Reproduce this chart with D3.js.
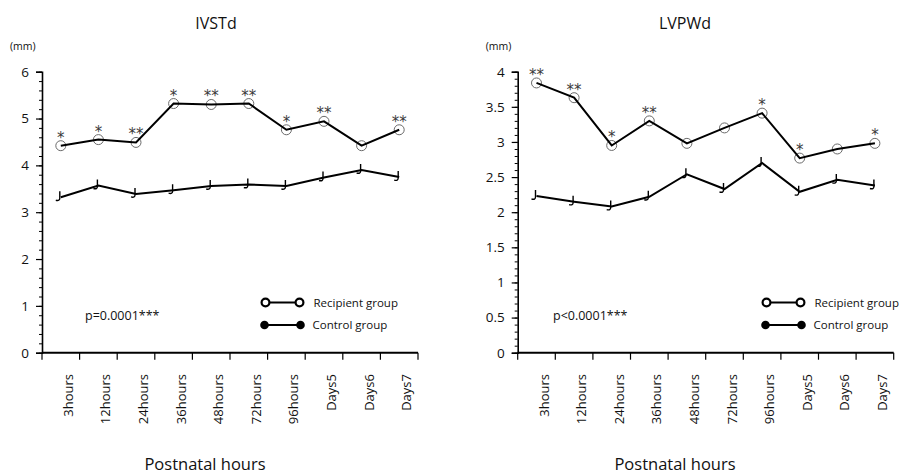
<!DOCTYPE html>
<html>
<head>
<meta charset="utf-8">
<script src="https://cdn.jsdelivr.net/npm/d3@7"></script>
<style>
  html, body { margin: 0; padding: 0; background: #fff; }
  svg { display: block; font-family: "Open Sans", "Noto Sans", sans-serif; }
</style>
</head>
<body>
<svg id="chart" width="899" height="474"></svg>
<script>
// Time points along the x axis
const categories = ["3hours", "12hours", "24hours", "36hours", "48hours", "72hours", "96hours", "Days5", "Days6", "Days7"];

// IVSTd (mm)
const ivstdRecipient = [4.42, 4.55, 4.49, 5.32, 5.30, 5.32, 4.76, 4.94, 4.42, 4.76];
const ivstdControl   = [3.32, 3.57, 3.39, 3.47, 3.56, 3.59, 3.56, 3.74, 3.90, 3.75];
const ivstdStars     = ["*", "*", "**", "*", "**", "**", "*", "**", "", "**"];
const ivstdTicks     = [0, 1, 2, 3, 4, 5, 6];

// LVPWd (mm)
const lvpwdRecipient = [3.84, 3.63, 2.95, 3.30, 2.98, 3.20, 3.41, 2.77, 2.90, 2.98];
const lvpwdControl   = [2.23, 2.15, 2.08, 2.22, 2.54, 2.33, 2.70, 2.29, 2.46, 2.38];
const lvpwdStars     = ["**", "**", "*", "**", "", "", "*", "*", "", "*"];
const lvpwdTicks     = [0, 0.5, 1, 1.5, 2, 2.5, 3, 3.5, 4];

const legendLabels = ["Recipient group", "Control group"];

const svg = d3.select("#chart");

function drawPanel(cfg) {
  const g = svg.append("g");
  const yMax = cfg.ticks[cfg.ticks.length - 1];

  const x = d3.scaleBand().domain(categories).range([cfg.left, cfg.left + 376]).padding(0);
  const y = d3.scaleLinear().domain([0, yMax]).range([352.7, 71.7]);
  const cx = c => x(c) + x.bandwidth() / 2;

  // minor ticks (5 subdivisions per major step)
  const step = cfg.ticks[1] - cfg.ticks[0];
  const minor = d3.range(0, yMax + 1e-9, step / 5);
  g.append("g")
    .attr("transform", `translate(${cfg.left},0)`)
    .call(d3.axisLeft(y).tickValues(minor).tickSize(3).tickFormat(""))
    .call(a => a.select(".domain").remove())
    .call(a => a.selectAll("line").attr("stroke", "#000").attr("stroke-width", 1));

  // major y axis
  g.append("g")
    .attr("transform", `translate(${cfg.left},0)`)
    .call(d3.axisLeft(y).tickValues(cfg.ticks).tickSize(6).tickSizeOuter(6).tickPadding(7)
      .tickFormat(d3.format("~g")))
    .call(a => a.select(".domain").attr("stroke", "#000").attr("stroke-width", 1.6))
    .call(a => a.selectAll("line").attr("stroke", "#000").attr("stroke-width", 1.2))
    .call(a => a.selectAll("text").attr("font-size", 13.5).attr("fill", "#111")
      .attr("font-family", "Open Sans, sans-serif"));

  // x axis line with ticks at band boundaries
  const bounds = categories.map(c => x(c)).concat([x.range()[1]]);
  g.append("line")
    .attr("x1", x.range()[0]).attr("x2", x.range()[1])
    .attr("y1", y(0)).attr("y2", y(0))
    .attr("stroke", "#000").attr("stroke-width", 2);
  g.selectAll(".xt").data(bounds).enter().append("line")
    .attr("x1", d => d).attr("x2", d => d)
    .attr("y1", y(0)).attr("y2", y(0) + 7)
    .attr("stroke", "#000").attr("stroke-width", 1.2);

  // rotated category labels
  g.selectAll(".xl").data(categories).enter().append("text")
    .attr("transform", d => `translate(${cx(d) + 12},374) rotate(-90)`)
    .attr("text-anchor", "end")
    .attr("font-size", 13)
    .attr("fill", "#111")
    .text(d => d);

  // titles and axis labels
  g.append("text").attr("x", cfg.titleX).attr("y", 29).attr("text-anchor", "middle")
    .attr("font-size", 16).attr("fill", "#111").text(cfg.title);
  g.append("text").attr("x", cfg.left - 32).attr("y", 50).attr("font-size", 10.5)
    .attr("fill", "#111").text("(mm)");
  g.append("text").attr("x", cfg.xLabelX).attr("y", 470).attr("text-anchor", "middle")
    .attr("font-size", 16.5).attr("fill", "#111").text("Postnatal hours");
  g.append("text").attr("x", cfg.pX).attr("y", 320).attr("font-size", 12.5)
    .attr("fill", "#111").text(cfg.pText);

  const line = d3.line().x((d, i) => cx(categories[i])).y(d => y(d));

  // recipient group: open grey circles under a black line
  g.selectAll(".rc").data(cfg.recipient).enter().append("circle")
    .attr("cx", (d, i) => cx(categories[i])).attr("cy", d => y(d)).attr("r", 5)
    .attr("fill", "none").attr("stroke", "#6a6a6a").attr("stroke-width", 1);
  g.append("path").datum(cfg.recipient).attr("d", line)
    .attr("fill", "none").attr("stroke", "#000").attr("stroke-width", 2);

  // significance marks
  g.selectAll(".st").data(cfg.stars).enter().append("text")
    .attr("x", (d, i) => cx(categories[i]))
    .attr("y", (d, i) => y(cfg.recipient[i]) - 3)
    .attr("text-anchor", "middle")
    .attr("font-family", "DejaVu Sans, sans-serif")
    .attr("font-size", 15).attr("fill", "#3a3a3a")
    .text(d => d);

  // control group: line with hooked markers
  g.append("path").datum(cfg.control).attr("d", line)
    .attr("fill", "none").attr("stroke", "#000").attr("stroke-width", 2);
  g.selectAll(".cm").data(cfg.control).enter().append("path")
    .attr("transform", (d, i) => `translate(${cx(categories[i]) - 1},${y(d)})`)
    .attr("d", "M0,-6 V1 Q0,4 -4,3")
    .attr("fill", "none").attr("stroke", "#000").attr("stroke-width", 1.4);

  // legend
  const lg = g.append("g");
  const rows = [
    { y: 302.5, x1: cfg.legX, x2: cfg.legX + 34, tx: cfg.legX + 48, open: true },
    { y: 325, x1: cfg.legX - 1, x2: cfg.legX + 35, tx: cfg.legX + 47, open: false }
  ];
  rows.forEach((r, k) => {
    lg.append("line").attr("x1", r.x1).attr("x2", r.x2).attr("y1", r.y).attr("y2", r.y)
      .attr("stroke", "#000").attr("stroke-width", 2.2);
    [r.x1, r.x2].forEach(px => {
      lg.append("circle").attr("cx", px).attr("cy", r.y)
        .attr("r", r.open ? 3.9 : 4.3)
        .attr("fill", r.open ? "#fff" : "#000")
        .attr("stroke", "#000").attr("stroke-width", r.open ? 2.2 : 0);
    });
    lg.append("text").attr("x", r.tx).attr("y", r.y + 4).attr("font-size", 11.5)
      .attr("fill", "#111").text(legendLabels[k]);
  });
}

drawPanel({
  title: "IVSTd", titleX: 216, xLabelX: 205, left: 42,
  ticks: ivstdTicks, recipient: ivstdRecipient, control: ivstdControl, stars: ivstdStars,
  pText: "p=0.0001***", pX: 85, legX: 265.5
});

drawPanel({
  title: "LVPWd", titleX: 685, xLabelX: 675, left: 517.7,
  ticks: lvpwdTicks, recipient: lvpwdRecipient, control: lvpwdControl, stars: lvpwdStars,
  pText: "p<0.0001***", pX: 553, legX: 766.5
});
</script>
</body>
</html>
